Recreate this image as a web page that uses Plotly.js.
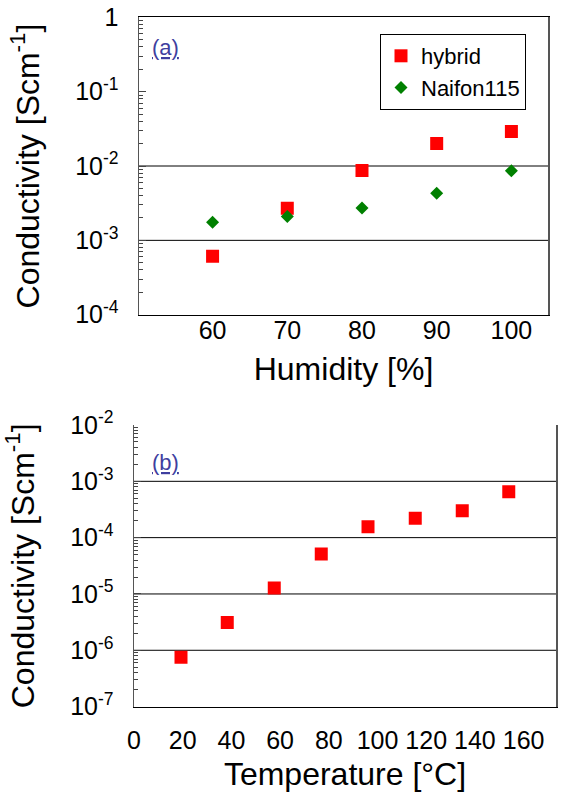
<!DOCTYPE html>
<html>
<head>
<meta charset="utf-8">
<script src="https://cdn.plot.ly/plotly-3.0.1.min.js"></script>
<style>html,body{margin:0;padding:0;background:#fff;}#chart{width:570px;height:793px;}</style>
</head>
<body>
<div id="chart"></div>
<script>
// ---- data ----
var humidity = [60, 70, 80, 90, 100];
var hybridByHumidity = [6.1e-4, 2.7e-3, 8.7e-3, 2.0e-2, 2.9e-2];
var nafionByHumidity = [1.75e-3, 2.1e-3, 2.73e-3, 4.3e-3, 8.6e-3];

var temperature = [19.3, 38.3, 57.6, 76.9, 96.1, 115.5, 134.8, 153.9];
var hybridByTemperature = [7.5e-7, 3.1e-6, 1.28e-5, 5.1e-5, 1.56e-4, 2.2e-4, 3.0e-4, 6.5e-4];

var seriesNames = ['hybrid', 'Naifon115'];
var humidityTicks = [60, 70, 80, 90, 100];
var temperatureTicks = [0, 20, 40, 60, 80, 100, 120, 140, 160];
var topYTickVals = [1, 1e-1, 1e-2, 1e-3, 1e-4];
var topYTickText = ['1', '10<sup>-1</sup>', '10<sup>-2</sup>', '10<sup>-3</sup>', '10<sup>-4</sup>'];
var topGridVals = [1e-2, 1e-3];
var botYTickVals = [1e-2, 1e-3, 1e-4, 1e-5, 1e-6, 1e-7];
var botYTickText = ['10<sup>-2</sup>', '10<sup>-3</sup>', '10<sup>-4</sup>', '10<sup>-5</sup>', '10<sup>-6</sup>', '10<sup>-7</sup>'];
var botGridVals = [1e-3, 1e-4, 1e-5, 1e-6];

var FONT = 'Liberation Sans, Arial, sans-serif';
var W = 570, H = 793;
function px(x) { return x / W; }
function py(y) { return 1 - y / H; }

// minor log tick positions (2..9 within each decade of an axis)
function minorTicks(loExp, hiExp) {
  var out = [];
  for (var e = loExp; e < hiExp; e++) {
    for (var k = 2; k <= 9; k++) out.push(k * Math.pow(10, e));
  }
  return out;
}

var traces = [
  {x: humidity, y: hybridByHumidity, name: seriesNames[0], type: 'scatter', mode: 'markers',
   xaxis: 'x', yaxis: 'y', marker: {symbol: 'square', size: 13, color: '#ff0000'}},
  {x: humidity, y: nafionByHumidity, name: seriesNames[1], type: 'scatter', mode: 'markers',
   xaxis: 'x', yaxis: 'y', marker: {symbol: 'diamond', size: 10, color: '#008000'}},
  {x: temperature, y: hybridByTemperature, name: seriesNames[0], type: 'scatter', mode: 'markers',
   xaxis: 'x2', yaxis: 'y2', showlegend: false, marker: {symbol: 'square', size: 13, color: '#ff0000'}}
];

var tickFont = {family: FONT, size: 25, color: '#000'};
var titleFont = {family: FONT, size: 32, color: '#000'};

var shapes = [];
topGridVals.forEach(function (v) {
  shapes.push({type: 'line', xref: 'x domain', yref: 'y', x0: 0, x1: 1, y0: v, y1: v,
               layer: 'below', line: {color: '#000', width: 1}});
});
botGridVals.forEach(function (v) {
  shapes.push({type: 'line', xref: 'x2 domain', yref: 'y2', x0: 0, x1: 1, y0: v, y1: v,
               layer: 'below', line: {color: '#000', width: 1}});
});

var layout = {
  width: W, height: H,
  margin: {l: 0, r: 0, t: 0, b: 0},
  paper_bgcolor: '#fff', plot_bgcolor: '#fff',
  showlegend: true,
  legend: {x: px(380), y: py(34), xanchor: 'left', yanchor: 'top',
           bgcolor: '#fff', bordercolor: '#000', borderwidth: 1,
           font: {family: FONT, size: 22, color: '#000'}},
  xaxis: {domain: [px(139), px(548)], anchor: 'y', range: [50.15, 104.9],
          tickmode: 'array', tickvals: humidityTicks, ticks: '', showgrid: false, zeroline: false,
          showline: true, linecolor: '#000', linewidth: 1, mirror: true,
          tickfont: tickFont, automargin: false, ticklabelstandoff: -7,
          title: {text: 'Humidity [%]', font: titleFont, standoff: 14}},
  yaxis: {domain: [py(314.7), py(17.3)], anchor: 'x', type: 'log', range: [-4, 0],
          tickmode: 'array', tickvals: topYTickVals, ticktext: topYTickText,
          ticks: 'inside', ticklen: 7, tickwidth: 1, tickcolor: '#444', showgrid: false, zeroline: false,
          showline: true, linecolor: '#555', linewidth: 1.5, mirror: true,
          minor: {tickmode: 'array', tickvals: minorTicks(-4, 0), ticks: 'inside', ticklen: 4,
                  tickwidth: 1, tickcolor: '#444', showgrid: false},
          tickfont: tickFont, automargin: false, ticklabelstandoff: 14,
          title: {text: 'Conductivity [Scm<sup>-1</sup>]', font: titleFont, standoff: 26}},
  xaxis2: {domain: [px(134), px(556)], anchor: 'y2', range: [0, 173.3],
           tickmode: 'array', tickvals: temperatureTicks, ticks: '', showgrid: false, zeroline: false,
           showline: true, linecolor: '#000', linewidth: 1, mirror: false,
           tickfont: tickFont, automargin: false, ticklabelstandoff: 11,
           title: {text: 'Temperature [°C]', font: titleFont, standoff: 10}},
  yaxis2: {domain: [py(706.6), py(425)], anchor: 'x2', type: 'log', range: [-7, -2],
           tickmode: 'array', tickvals: botYTickVals, ticktext: botYTickText,
           ticks: 'inside', ticklen: 7, tickwidth: 1, tickcolor: '#444', showgrid: false, zeroline: false,
           showline: true, linecolor: '#555', linewidth: 1.5, mirror: true,
           minor: {tickmode: 'array', tickvals: minorTicks(-7, -2), ticks: 'inside', ticklen: 4,
                   tickwidth: 1, tickcolor: '#444', showgrid: false},
           tickfont: tickFont, automargin: false, ticklabelstandoff: 14,
           title: {text: 'Conductivity [Scm<sup>-1</sup>]', font: titleFont, standoff: 26}},
  shapes: shapes,
  annotations: [
    {text: '<span style="text-decoration:underline">(a)</span>', xref: 'paper', yref: 'paper',
     x: px(165), y: py(47.5), xanchor: 'center', yanchor: 'middle', showarrow: false,
     font: {family: FONT, size: 22, color: '#3f3f9f'}},
    {text: '<span style="text-decoration:underline">(b)</span>', xref: 'paper', yref: 'paper',
     x: px(165.5), y: py(462), xanchor: 'center', yanchor: 'middle', showarrow: false,
     font: {family: FONT, size: 22, color: '#3f3f9f'}}
  ]
};

Plotly.newPlot('chart', traces, layout, {staticPlot: true, displayModeBar: false});
</script>
</body>
</html>
